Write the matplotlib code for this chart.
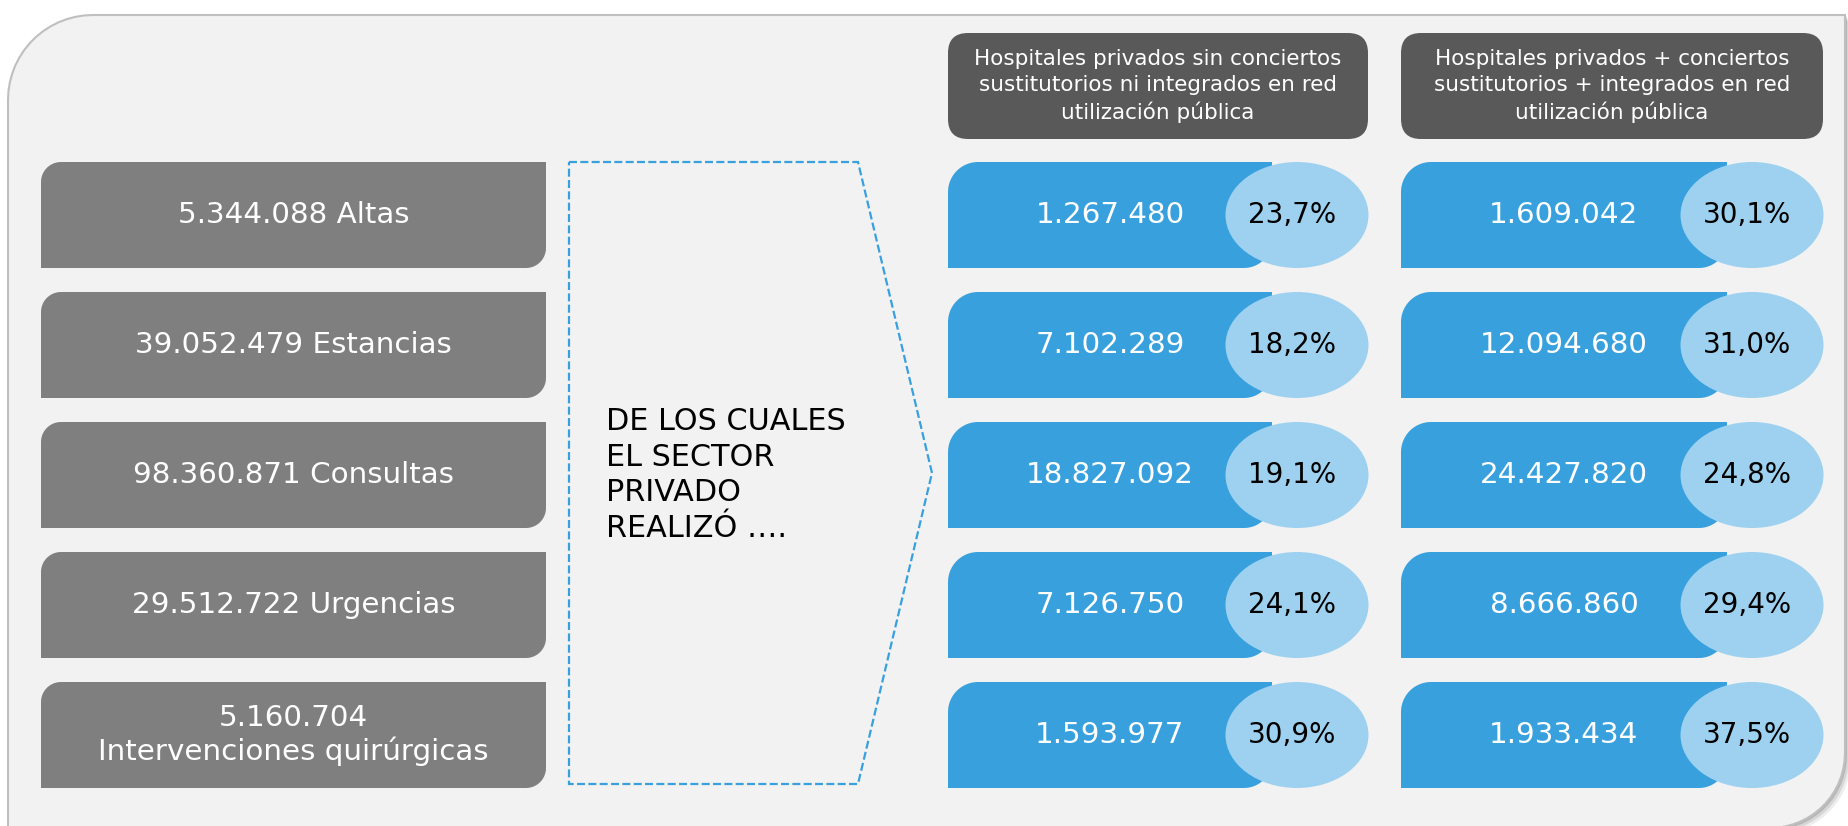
import numpy as np
import matplotlib
matplotlib.use('Agg')
import matplotlib.pyplot as plt
from matplotlib.patches import Polygon, FancyBboxPatch, Ellipse

plt.rcParams['font.family'] = ['DejaVu Sans']

# data
categories = ['5.344.088 Altas', '39.052.479 Estancias', '98.360.871 Consultas',
              '29.512.722 Urgencias', '5.160.704\nIntervenciones quirúrgicas']
headers = ['Hospitales privados sin conciertos\nsustitutorios ni integrados en red\nutilización pública',
           'Hospitales privados + conciertos\nsustitutorios + integrados en red\nutilización pública']
sin_conc = ['1.267.480', '7.102.289', '18.827.092', '7.126.750', '1.593.977']
sin_pct = ['23,7%', '18,2%', '19,1%', '24,1%', '30,9%']
con_conc = ['1.609.042', '12.094.680', '24.427.820', '8.666.860', '1.933.434']
con_pct = ['30,1%', '31,0%', '24,8%', '29,4%', '37,5%']
middle_text = 'DE LOS CUALES\nEL SECTOR\nPRIVADO\nREALIZÓ ….'

W, H = 1849, 826
fig = plt.figure(figsize=(W / 100, H / 100), dpi=100)
ax = fig.add_axes([0, 0, 1, 1])
ax.set_xlim(0, W)
ax.set_ylim(H, 0)
ax.axis('off')
fig.patch.set_facecolor('white')


def diag_rect(x0, y0, x1, y1, r1, r2, **kw):
    # rounded top-left and bottom-right corners (y goes down)
    t = np.linspace(0, np.pi / 2, 16)
    pts = [(x0 + r1 - r1 * np.cos(a), y0 + r1 - r1 * np.sin(a)) for a in t]
    pts.append((x1, y0))
    pts += [(x1 - r2 + r2 * np.cos(a), y1 - r2 + r2 * np.sin(a)) for a in t]
    pts.append((x0, y1))
    return Polygon(pts, closed=True, **kw)


# outer frame with shadow
for dx, al in [(6, 0.12), (4, 0.18), (2, 0.3)]:
    ax.add_patch(diag_rect(8 + dx, 15 + dx, 1845 + dx, 828 + dx, 85, 75,
                           facecolor='#6f6f6f', edgecolor='none', alpha=al))
ax.add_patch(diag_rect(8, 15, 1845, 828, 85, 75, facecolor='#f2f2f2',
                       edgecolor='#bfbfbf', lw=1.5))

grey = '#7f7f7f'
blue = '#38a0dd'
light = '#9dd1ef'

row_top = [162, 292, 422, 552, 682]
row_h = 106

# left category boxes
for i, cat in enumerate(categories):
    y0 = row_top[i]
    ax.add_patch(diag_rect(41, y0, 546, y0 + row_h, 20, 20, facecolor=grey, edgecolor='none'))
    ax.text((41 + 546) / 2, y0 + row_h / 2, cat, color='white', fontsize=21.2,
            ha='center', va='center', linespacing=1.15)

# dashed pentagon
ax.add_patch(Polygon([(569, 162), (858, 162), (932, 473), (858, 784), (569, 784)],
                     closed=True, fill=False, edgecolor=blue, lw=1.6,
                     linestyle=(0, (3.6, 1.5))))
ax.text(606, 475, middle_text, fontsize=21.8, color='black', ha='left', va='center',
        linespacing=1.3)

# header boxes
cols = [(948, 1368), (1401, 1823)]
for (x0, x1), hd in zip(cols, headers):
    ax.add_patch(FancyBboxPatch((x0, 33), x1 - x0, 106,
                                boxstyle='round,pad=0,rounding_size=20',
                                facecolor='#595959', edgecolor='none'))
    ax.text((x0 + x1) / 2, 86, hd, color='white', fontsize=15.5, ha='center',
            va='center', linespacing=1.35)

# blue value boxes and percentage ellipses
for (x0, x1), vals, pcts in [(cols[0], sin_conc, sin_pct), (cols[1], con_conc, con_pct)]:
    rect_r = x1 - 96
    ex = x1 - 71
    for i in range(len(vals)):
        y0 = row_top[i]
        ax.add_patch(diag_rect(x0, y0, rect_r, y0 + row_h, 30, 28,
                               facecolor=blue, edgecolor='none'))
        ax.add_patch(Ellipse((ex, y0 + row_h / 2), 143, row_h,
                             facecolor=light, edgecolor='none'))
        ax.text((x0 + rect_r) / 2, y0 + row_h / 2, vals[i], color='white',
                fontsize=21.2, ha='center', va='center')
        ax.text(ex - 5, y0 + row_h / 2, pcts[i], color='black',
                fontsize=20, ha='center', va='center')

fig.savefig('out.png', dpi=100, facecolor='white')
